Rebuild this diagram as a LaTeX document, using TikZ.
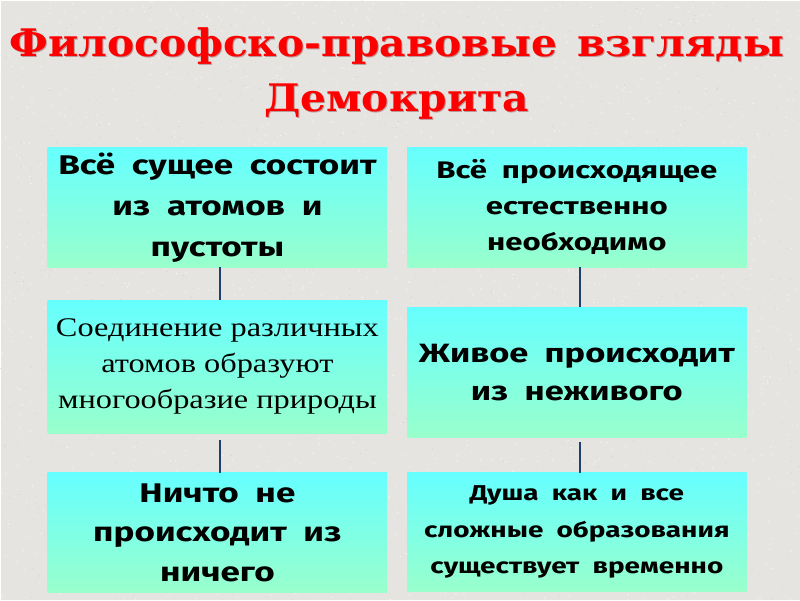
\documentclass[tikz,border=0pt]{standalone}
\usepackage{fontspec}
\setmainfont{Liberation Serif}
\newfontfamily\boxfont{Fira Sans}[FakeStretch=1.3, WordSpace=2.0]
\newfontfamily\titlefont{DejaVu Serif}[FakeStretch=1.075]
\newfontfamily\serifbox{Liberation Serif}[FakeStretch=1.2]
\definecolor{bg}{HTML}{E6E4E1}
\definecolor{bgdot}{HTML}{F4F3F1}
\definecolor{bgdark}{HTML}{D2CFCB}
\definecolor{boxtop}{HTML}{66FFFF}
\definecolor{boxbot}{HTML}{99FFCC}
\definecolor{linkc}{HTML}{1F3F70}
\definecolor{titlered}{HTML}{FF0000}
\definecolor{titleshadow}{HTML}{6A1010}
\tikzset{
  panel/.style={rectangle, inner sep=0pt, minimum width=340pt, top color=boxtop, bottom color=boxbot, align=center, text=black},
  link/.style={draw=linkc, line width=2pt},
  ttl/.style={font=\titlefont\bfseries\fontsize{38}{44}\selectfont, text=titlered, inner sep=0pt, anchor=base},
  ttlsh/.style={font=\titlefont\bfseries\fontsize{38}{44}\selectfont, text=titleshadow, text opacity=0.35, inner sep=0pt, anchor=base}
}
\begin{document}
\begin{tikzpicture}[x=1pt,y=-1pt]
\fill[bg] (0,0) rectangle (800,600);
\pgfmathsetseed{7}
\foreach \i in {1,...,1800}{
  \fill[bgdot] (rnd*800,rnd*600) circle (0.8pt);
}
\foreach \i in {1,...,1200}{
  \fill[bgdark] (rnd*800,rnd*600) circle (0.5pt);
}
\useasboundingbox (0,0) rectangle (800,600);
% title
\node[ttlsh] at (397.5,56.5) {Философско-правовые\, взгляды};
\node[ttl] (t1) at (396.5,55.5) {Философско-правовые\, взгляды};
\node[ttlsh] at (397.5,112) {Демокрита};
\node[ttl] (t2) at (396.5,111) {Демокрита};
% left column
\node[panel, minimum height=120pt, font=\boxfont\bfseries\fontsize{27}{41}\selectfont] (L1) at (217,207) {\rule{0pt}{6pt}Всё сущее состоит\\из атомов и\\пустоты};
\node[panel, minimum height=133pt, font=\serifbox\fontsize{27}{36}\selectfont] (L2) at (217,366.5) {Соединение различных\\атомов образуют\\многообразие природы};
\node[panel, minimum height=120pt, font=\boxfont\bfseries\fontsize{27}{40}\selectfont] (L3) at (217,533) {Ничто не\\происходит из\\ничего};
% right column
\node[panel, minimum height=120pt, font=\boxfont\bfseries\fontsize{24}{36}\selectfont] (R1) at (577,207) {Всё происходящее\\естественно\\необходимо};
\node[panel, minimum height=131pt, font=\boxfont\bfseries\fontsize{26.5}{38}\selectfont] (R2) at (577,372.5) {Живое происходит\\из неживого};
\node[panel, minimum height=119pt, font=\boxfont\bfseries\fontsize{21.5}{36.5}\selectfont] (R3) at (577,532.5) {Душа как и все\\сложные образования\\существует временно};
% connectors
\coordinate (cl) at (220,0);
\coordinate (cr) at (580,0);
\draw[link] (L1.south -| cl) -- (L2.north -| cl);
\draw[link] ([yshift=-7pt]L2.south -| cl) -- (L3.north -| cl);
\draw[link] (R1.south -| cr) -- (R2.north -| cr);
\draw[link] ([yshift=-4pt]R2.south -| cr) -- (R3.north -| cr);
\end{tikzpicture}
\end{document}
